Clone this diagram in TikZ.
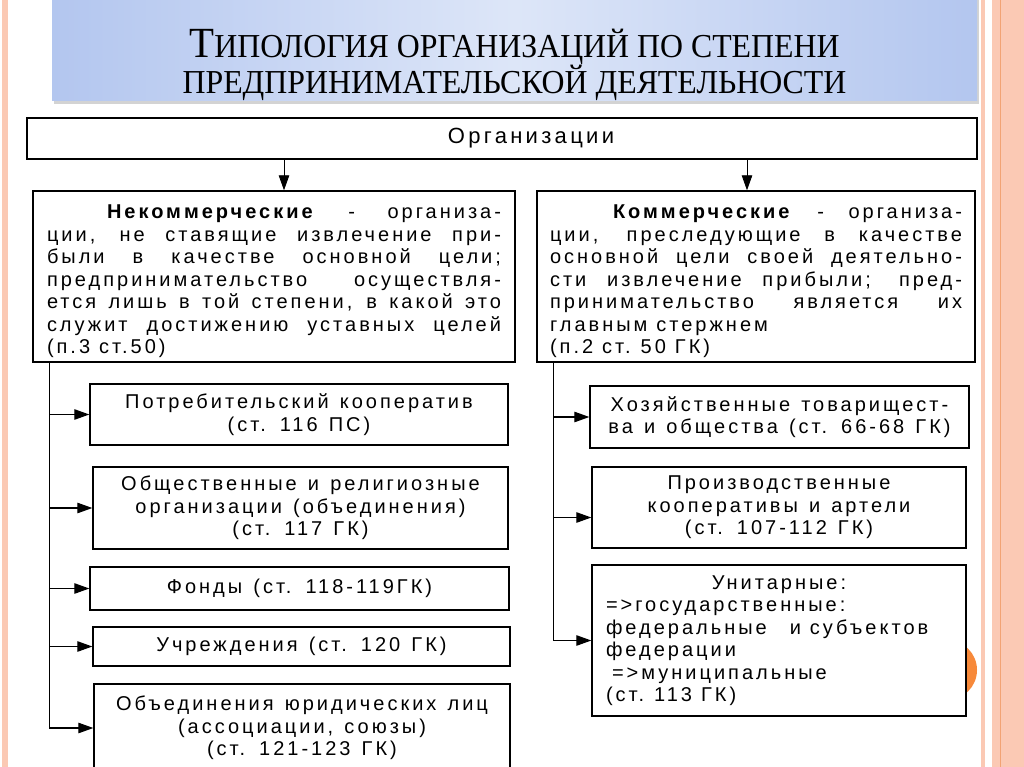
\documentclass[tikz,border=0pt]{standalone}
\usepackage{fontspec}
\setmainfont{Liberation Sans}
\newfontfamily\boxfont[LetterSpace=15,WordSpace=1.3]{Liberation Sans}
\newfontfamily\titlefont[FakeStretch=0.95]{Liberation Serif}
\usetikzlibrary{arrows.meta,shadows}

\definecolor{stripe}{HTML}{FBC9B4}
\definecolor{stripeline}{HTML}{F2A374}
\definecolor{titleedge}{HTML}{B3C6EF}
\definecolor{titlemid}{HTML}{DDE6F8}
\definecolor{dot}{HTML}{F7893A}

\newcommand{\jl}[2][454pt]{\makebox[#1][s]{\spaceskip=0.3em plus 1fil\relax#2}}
\newcommand{\wl}[1]{\mbox{\spaceskip=0.45em\relax#1}}

\tikzset{
  box/.style={draw, line width=1.4pt, fill=white, inner sep=0pt,
    font=\boxfont\fontsize{20}{22.5}\selectfont},
  subbox/.style={box, align=center},
  arr/.style={-{Triangle[length=15pt,width=10.5pt]}, line width=1.1pt},
}

\begin{document}
\begin{tikzpicture}[x=1pt,y=-1pt]
\useasboundingbox (0,0) rectangle (1024,767);
% page stripes
\fill[stripe] (2,0) rectangle (8,767);
\fill[stripe] (981,0) rectangle (985,767);
\fill[stripe] (992,0) rectangle (1024,767);
\draw[stripeline, line width=1.2pt] (1000.5,0) -- (1000.5,767);
\fill[dot] (947,670) circle (30);

% title
\path[left color=titleedge, right color=titleedge, middle color=titlemid,
  drop shadow={opacity=0.35, shadow xshift=2pt, shadow yshift=-3pt}]
  (52,-5) rectangle (977,101);
\node[font=\titlefont\fontsize{33.5}{35}\selectfont, align=center] (title) at (514.5,65)
  {{\fontsize{43}{43}\selectfont Т}ИПОЛОГИЯ ОРГАНИЗАЦИЙ ПО СТЕПЕНИ\\
   ПРЕДПРИНИМАТЕЛЬСКОЙ ДЕЯТЕЛЬНОСТИ};

\node[box, minimum width=950, minimum height=41,
  font=\boxfont\fontsize{22}{24}\selectfont] (org) at (502,138.5) {\hspace*{58pt}Организации};

\node[box, minimum width=482, minimum height=171, text width=454, align=left] (ncom) at (274,276.5) {%
\jl{\rule{0pt}{24pt}\hspace*{60pt}\textbf{Некоммерческие} - организа-}\\
\jl{ции, не ставящие извлечение при-}\\
\jl{были в качестве основной цели;}\\
\jl{предпринимательство осуществля-}\\
\jl{ется лишь в той степени, в какой это}\\
\jl{служит достижению уставных целей}\\
\wl{(п.3 ст.50)}};

\node[box, minimum width=438, minimum height=171, text width=412, align=left] (com) at (756,276.5) {%
\jl[412pt]{\rule{0pt}{24pt}\hspace*{63pt}\textbf{Коммерческие} - организа-}\\
\jl[412pt]{ции, преследующие в качестве}\\
\jl[412pt]{основной цели своей деятельно-}\\
\jl[412pt]{сти извлечение прибыли; пред-}\\
\jl[412pt]{принимательство является их}\\
\wl{главным стержнем}\\
\wl{(п.2 ст. 50 ГК)}};

\coordinate (nin) at ([xshift=10pt]ncom.north);
\coordinate (cin) at ([xshift=-9pt]com.north);
\draw[arr, line width=0.9pt] (org.south -| nin) -- (nin);
\draw[arr, line width=0.9pt] (org.south -| cin) -- (cin);

% left column
\node[subbox, minimum width=418, minimum height=61] (potreb) at (299,414.5)
  {Потребительский кооператив\\(ст. 116 ПС)};
\node[subbox, minimum width=415, minimum height=82] (obsch) at (300.5,508)
  {Общественные и религиозные\\организации (объединения)\\(ст. 117 ГК)};
\node[subbox, minimum width=419, minimum height=43] (fondy) at (299.5,588.5)
  {Фонды (ст. 118-119ГК)};
\node[subbox, minimum width=417, minimum height=39] (uchr) at (301.5,646.5)
  {Учреждения (ст. 120 ГК)};
\node[subbox, minimum width=416, minimum height=88] (obyed) at (302,728)
  {Объединения юридических лиц\\(ассоциации, союзы)\\(ст. 121-123 ГК)};

\coordinate (lsp) at ([xshift=17pt]ncom.south west);
\foreach \b in {potreb,obsch,fondy,uchr,obyed}
  \draw[arr] (lsp) |- (\b.west);

% right column
\node[subbox, minimum width=379, minimum height=62] (hoz) at (779.5,417)
  {Хозяйственные товарищест-\\ва и общества (ст. 66-68 ГК)};
\node[subbox, minimum width=374, minimum height=81] (proizv) at (779,507.5)
  {Производственные\\кооперативы и артели\\(ст. 107-112 ГК)};
\node[box, minimum width=374, minimum height=151, text width=346, align=left] (unit) at (779,640.5) {%
\makebox[346pt]{Унитарные:}\\
=>государственные:\\
\wl{федеральные\hspace{14pt} и субъектов}\\
федерации\\
\hspace*{6pt}=>муниципальные\\
\wl{(ст. 113 ГК)}};

\coordinate (rsp) at ([xshift=17pt]com.south west);
\draw[arr] (rsp) |- (hoz.west);
\draw[arr] (rsp) |- ([yshift=-10pt]proizv.west);
\draw[arr] (rsp) |- (unit.west);
\end{tikzpicture}
\end{document}
